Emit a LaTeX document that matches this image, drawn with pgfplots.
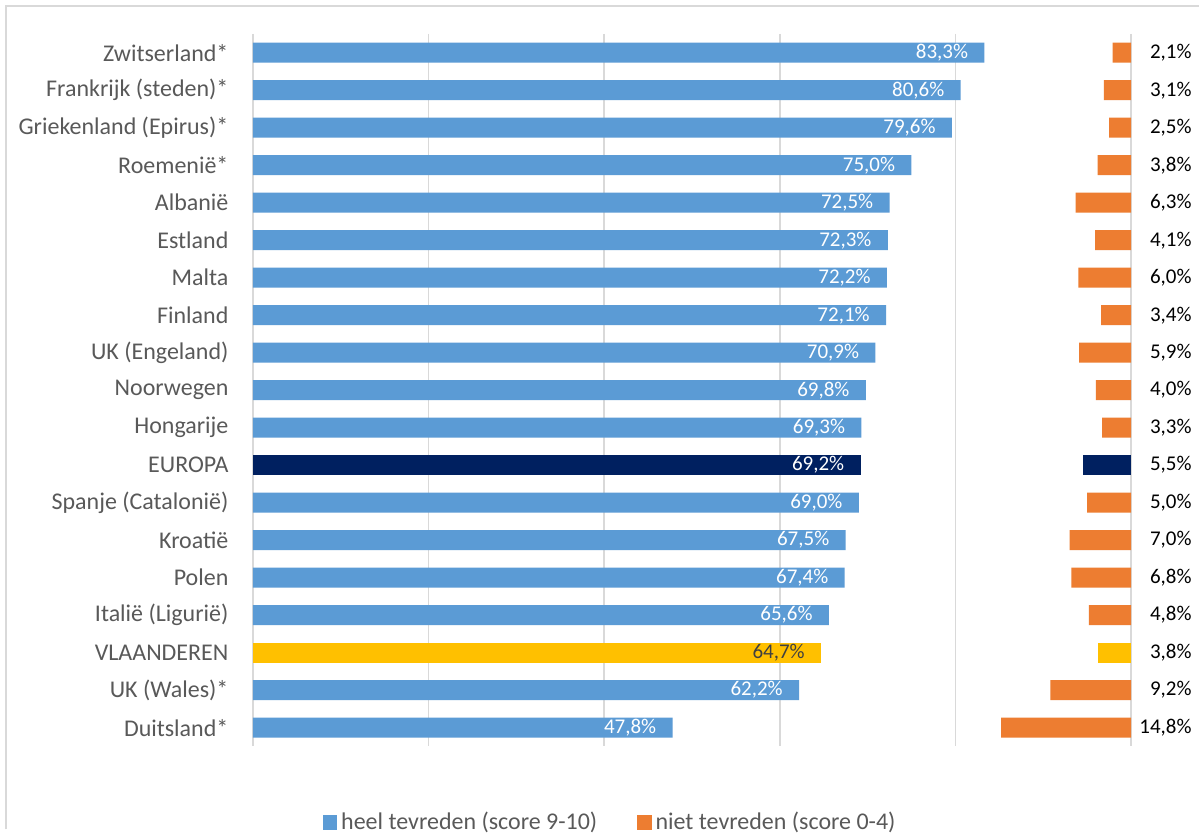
\documentclass[border=0pt]{standalone}
\usepackage{pgfplots}
\pgfplotsset{compat=1.18}
\usepackage{pgfplotstable}
\usepackage{fontspec}
\setmainfont{Carlito}
\definecolor{bluec}{HTML}{5B9BD5}
\definecolor{orangec}{HTML}{ED7D31}
\definecolor{navyc}{HTML}{002060}
\definecolor{yellowc}{HTML}{FFC000}
\definecolor{gridc}{HTML}{D9D9D9}
\definecolor{labc}{HTML}{595959}

\pgfplotstableread{
idx h n
0 83.3 2.1
1 80.6 3.1
2 79.6 2.5
3 75.0 3.8
4 72.5 6.3
5 72.3 4.1
6 72.2 6.0
7 72.1 3.4
8 70.9 5.9
9 69.8 4.0
10 69.3 3.3
12 69.0 5.0
13 67.5 7.0
14 67.4 6.8
15 65.6 4.8
17 62.2 9.2
18 47.8 14.8
}\maintab
\pgfplotstableread{
idx h n
11 69.2 5.5
}\europatab
\pgfplotstableread{
idx h n
16 64.7 3.8
}\vltab

\begin{document}
\begin{tikzpicture}
\fill[white] (0pt,0pt) rectangle (600pt,415pt);
\draw[gridc, line width=1pt] (3.25pt,0pt) -- (3.25pt,411.75pt) -- (600pt,411.75pt);
\pgfplotsset{
  base/.style={
    scale only axis,
    width=439.5pt, height=356.5pt,
    at={(126.5pt,41.5pt)}, anchor=south west,
    xmin=0, xmax=100,
    ymin=-0.5, ymax=18.5, y dir=reverse,
    xbar, bar width=10pt, bar shift=0pt,
    /pgf/number format/assume math mode=true,
    clip=false,
  },
}
% blue bars
\begin{axis}[base,
  axis line style={draw=none},
  xtick={0,20,40,60,80,100},
  xmajorgrids, grid style={gridc, line width=0.9pt},
  ytick={0,...,18},
  yticklabels={Zwitserland*,Frankrijk (steden)*,Griekenland (Epirus)*,Roemenië*,Albanië,Estland,Malta,Finland,UK (Engeland),Noorwegen,Hongarije,EUROPA,Spanje (Catalonië),Kroatië,Polen,Italië (Ligurië),VLAANDEREN,UK (Wales)*,Duitsland*},
  xticklabels={},
  major tick length=0pt,
  tick style={draw=none},
  yticklabel style={font=\fontsize{12pt}{14pt}\selectfont, text=labc, inner sep=0pt, xshift=-12pt},
  nodes near coords={\pgfmathprintnumber[fixed, fixed zerofill, precision=1, use comma]{\pgfplotspointmeta}\%},
  nodes near coords align=horizontal,
  every node near coord/.append style={font=\fontsize{10.5pt}{12pt}\selectfont, anchor=east, inner sep=0pt, xshift=-8pt, text=white},
  point meta=explicit,
  legend columns=2,
  legend image code/.code={\fill[#1] (0pt,-3.6pt) rectangle (7.2pt,3.6pt);},
  legend style={draw=none, fill=none, at={(0.408,-0.0673)}, anchor=center, yshift=-14pt,
    font=\fontsize{12pt}{14pt}\selectfont, text=labc,
    /tikz/every even column/.append style={column sep=18pt},
    inner sep=0pt, nodes={inner sep=2pt}},
]
\addplot[fill=bluec, draw=none] table[x=h, y=idx, meta=h] {\maintab};
\addlegendentry{heel tevreden (score 9-10)}
\addplot[fill=navyc, draw=none, forget plot] table[x=h, y=idx, meta=h] {\europatab};
\addplot[fill=yellowc, draw=none, forget plot, every node near coord/.append style={text=black!75}] table[x=h, y=idx, meta=h] {\vltab};
\addlegendimage{fill=orangec, draw=none}
\addlegendentry{niet tevreden (score 0-4)}
\end{axis}
% orange bars
\begin{axis}[base,
  axis lines=none,
  x dir=reverse,
  point meta=explicit,
]
\addplot[fill=orangec, draw=none] table[x=n, y=idx] {\maintab};
\addplot[fill=navyc, draw=none] table[x=n, y=idx] {\europatab};
\addplot[fill=yellowc, draw=none] table[x=n, y=idx] {\vltab};
\addplot[draw=none, mark=none, xbar=false,
  nodes near coords={\pgfmathprintnumber[fixed, fixed zerofill, precision=1, use comma]{\pgfplotspointmeta}\%},
  every node near coord/.style={font=\fontsize{10.5pt}{12pt}\selectfont, anchor=east, inner sep=0pt, xshift=30.5pt, text=black}]
  table[x expr=0, y=idx, meta=n] {\maintab};
\addplot[draw=none, mark=none, xbar=false,
  nodes near coords={\pgfmathprintnumber[fixed, fixed zerofill, precision=1, use comma]{\pgfplotspointmeta}\%},
  every node near coord/.style={font=\fontsize{10.5pt}{12pt}\selectfont, anchor=east, inner sep=0pt, xshift=30.5pt, text=black}]
  table[x expr=0, y=idx, meta=n] {\europatab};
\addplot[draw=none, mark=none, xbar=false,
  nodes near coords={\pgfmathprintnumber[fixed, fixed zerofill, precision=1, use comma]{\pgfplotspointmeta}\%},
  every node near coord/.style={font=\fontsize{10.5pt}{12pt}\selectfont, anchor=east, inner sep=0pt, xshift=30.5pt, text=black}]
  table[x expr=0, y=idx, meta=n] {\vltab};
\end{axis}
\end{tikzpicture}
\end{document}
